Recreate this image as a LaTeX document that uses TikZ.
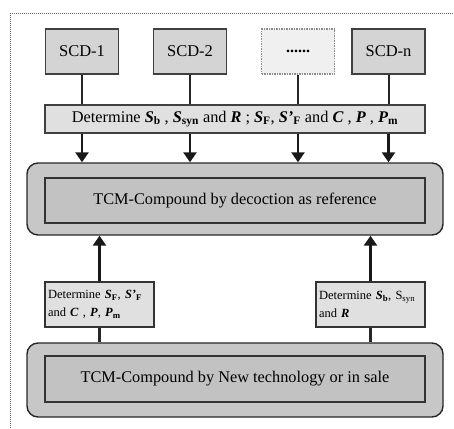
\documentclass[tikz,border=0pt]{standalone}
\usepackage{fontspec}
\setmainfont{Liberation Serif}
\usetikzlibrary{positioning,arrows.meta}
% bold italic symbol with bold subscript
\newcommand{\qsym}[2]{\textbf{\textit{#1}}\textsubscript{\textbf{#2}}}

\tikzset{
  scdbox/.style={draw=black!75, line width=1.1pt, fill=black!17, minimum width=73pt,
    minimum height=45pt, font=\fontsize{16.5}{18}\selectfont},
  dotsbox/.style={draw=black!45, densely dotted, line width=1.5pt, fill=black!6,
    minimum width=73pt, minimum height=45pt, font=\fontsize{16}{18}\selectfont},
  detbox/.style={draw=black!75, line width=1.1pt, fill=black!12, minimum width=380pt,
    minimum height=28pt, font=\fontsize{16.3}{18}\selectfont},
  outerbox/.style={draw=black!85, line width=1.4pt, fill=black!22, rounded corners=11pt,
    minimum width=416pt},
  innerbox/.style={draw=black!80, line width=1.1pt, fill=black!24, minimum width=380pt,
    font=\fontsize{16.3}{18}\selectfont},
  smallbox/.style={draw=black!80, line width=1.1pt, fill=black!12, minimum width=109pt,
    minimum height=45pt, text width=103pt, align=left, inner sep=3pt,
    font=\fontsize{12.5}{18}\selectfont},
  link/.style={line width=2pt, black!85},
  flow/.style={line width=2.8pt, black!90, -{Triangle[length=10pt,width=13pt]}},
}

\begin{document}
\begin{tikzpicture}[x=1pt, y=-1pt]
  \useasboundingbox (0,0) rectangle (454,428);

  % dotted frame (partly cut)
  \draw[black!60, densely dotted, line width=1pt] (10,428) -- (10,14) -- (454,14);

  % sources
  \node[scdbox] (scd1) at (82,51.5) {SCD-1};
  \node[scdbox] (scd2) at (190,51.5) {SCD-2};
  \node[dotsbox] (scddots) at (298,51.5) {\textbf{......}};
  \node[scdbox] (scdn) at (388.5,51.5) {SCD-n};

  \node[detbox] (det) at (235,119)
    {Determine \qsym{S}{b} , \qsym{S}{syn} and \textbf{\textit{R}} ; \qsym{S}{F}, \qsym{S'}{F} and \textbf{\textit{C}} , \textbf{\textit{P}} , \qsym{P}{m}};

  % reference compound
  \node[outerbox, minimum height=72pt] (refout) at (235,199) {};
  \node[innerbox, minimum height=45pt] (refin) at (235,200.5) {TCM-Compound by decoction as reference};

  % determination boxes
  \node[smallbox] (detleft) at (99.5,304.5)
    {Determine \qsym{S}{F}, \qsym{S'}{F}\\ and \textbf{\textit{C}} , \textbf{\textit{P}}, \qsym{P}{m}};
  \node[smallbox] (detright) at (370.5,304.5)
    {Determine \qsym{S}{b}, S\textsubscript{syn}\\ and \textbf{\textit{R}}};

  % new compound
  \node[outerbox, minimum height=74pt] (newout) at (235,380) {};
  \node[innerbox, minimum height=46pt] (newin) at (235,379) {TCM-Compound by New technology or in sale};

  % connectors
  \foreach \s in {scd1,scd2,scddots,scdn}{
    \draw[link] (\s.south) -- (\s.south |- det.north);
    \draw[flow] (\s.south |- det.south) -- (\s.south |- refout.north);
  }
  \draw[flow] (detleft.north) -- (detleft.north |- refout.south);
  \draw[flow] (detright.north) -- (detright.north |- refout.south);
  \draw[link, line width=3pt] (detleft.south) -- (detleft.south |- newout.north);
  \draw[link, line width=3pt] (detright.south) -- (detright.south |- newout.north);
\end{tikzpicture}
\end{document}
